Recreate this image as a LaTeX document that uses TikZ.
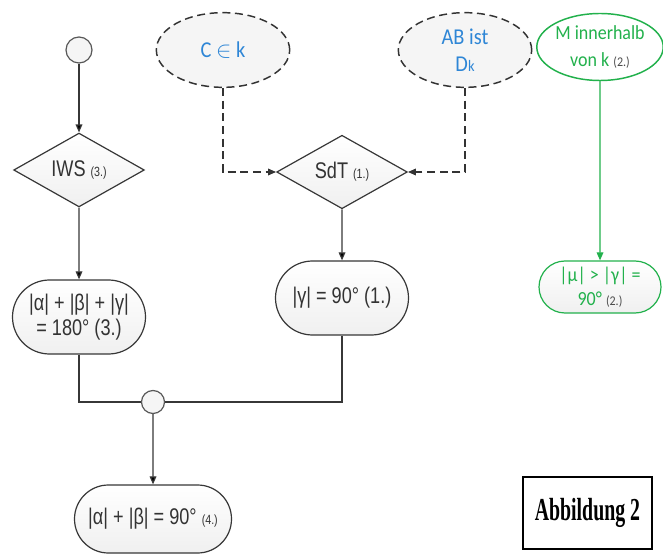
\documentclass[tikz,border=0pt]{standalone}
\usepackage{fontspec}
\newfontfamily\narrowsf[FakeStretch=0.8]{Liberation Sans}
\newfontfamily\calsf[FakeStretch=0.9]{Carlito}
\newfontfamily\figfont[FakeStretch=0.62]{Liberation Serif}
\usepackage{tikz}
\usetikzlibrary{positioning,shapes.geometric,shapes.misc,arrows.meta}

\definecolor{flowgreen}{RGB}{34,177,76}
\definecolor{condblue}{RGB}{46,134,214}
\definecolor{linegray}{RGB}{55,55,55}

\newcommand{\nr}[1]{{\fontsize{10}{10}\selectfont #1}}

\begin{document}
\begin{tikzpicture}[x=1pt,y=1pt,on grid,
    box/.style={draw=linegray,line width=0.9pt,inner sep=0pt,align=center,
      top color=white,bottom color=gray!12,text=black!80,
      font=\narrowsf\fontsize{17}{17}\selectfont},
    decision/.style={box,diamond,minimum width=98pt,minimum height=52.5pt},
    terminal/.style={box,rounded rectangle,minimum width=99.75pt,minimum height=55.5pt},
    junction/.style={circle,draw=gray!70!black,line width=0.9pt,fill=gray!8,inner sep=0pt},
    condition/.style={ellipse,draw=gray!40!black,dashed,dash pattern=on 6pt off 3.5pt,
      line width=1.1pt,fill=gray!8,inner sep=0pt,align=center,text=condblue,
      minimum width=100pt,minimum height=56pt,font=\calsf\fontsize{17}{20}\selectfont},
    gcondition/.style={ellipse,draw=flowgreen,line width=1.1pt,fill=white,inner sep=0pt,
      align=center,text=flowgreen,minimum width=93.75pt,minimum height=50.25pt,
      font=\calsf\fontsize{15}{20}\selectfont},
    gterminal/.style={terminal,draw=flowgreen,text=flowgreen,minimum width=91.5pt,
      minimum height=39pt,font=\calsf\fontsize{15}{18}\selectfont},
    flow/.style={-{Triangle[length=6pt,width=5pt]},draw=linegray,line width=0.9pt},
    dflow/.style={flow,dashed,dash pattern=on 6pt off 3.5pt,draw=gray!40!black},
    merge/.style={draw=linegray,line width=0.9pt},
    figbox/.style={draw,line width=1pt,minimum width=96.75pt,minimum height=54pt,
      font=\figfont\bfseries\fontsize{24}{24}\selectfont}]

    \useasboundingbox (0,0) rectangle (497.25,-419.25);

    % left branch
    \node[junction,minimum size=19.5pt] (start) at (59.25,-37.5) {};
    \node[decision] (iws)   [below=90pt of start]     {IWS \nr{(3.)}};
    \node[terminal] (sum3)  [below=110.25pt of iws]   {|α| + |β| + |γ|\\[2pt]= 180° (3.)};

    % middle branch
    \node[condition] (cek)  [right=108pt of start]    {C $\in$ k};
    \node[decision] (sdt)   [below right=91.5pt and 89.25pt of cek] {SdT \nr{(1.)}};
    \node[condition] (abd)  [right=181.5pt of cek]    {AB ist\\D{\fontsize{12}{12}\selectfont k}};
    \node[terminal] (gam)   [below=94.5pt of sdt]     {|γ| = 90° (1.)};

    % green branch
    \node[gcondition] (min) at (450,-35.25)          {M innerhalb\\von k {\color{black!70}\nr{(2.)}}};
    \node[gterminal] (mu)   [below=180pt of min]      {|μ| > |γ| =\\90° {\color{black!70}\nr{(2.)}}};

    % result
    \node[junction,minimum size=17.25pt] (meet) [below right=63.75pt and 55.5pt of sum3] {};
    \node[terminal,minimum width=117.75pt,minimum height=51pt] (sum4)
      [below=87.75pt of meet] {|α| + |β| = 90° \nr{(4.)}};

    \node[figbox] (fig) at (440.6,-384.75) {Abbildung 2};

    \path[flow]
    (start) edge (iws)
    (iws) edge (sum3)
    (sdt) edge (gam)
    (meet) edge (sum4);
    \draw[dflow] (cek) |- (sdt);
    \draw[dflow] (abd) |- (sdt);
    \draw[flow,draw=flowgreen] (min) -- (mu);
    \draw[merge] (sum3) |- (meet);
    \draw[merge] (gam) |- (meet);
  \end{tikzpicture}
\end{document}
